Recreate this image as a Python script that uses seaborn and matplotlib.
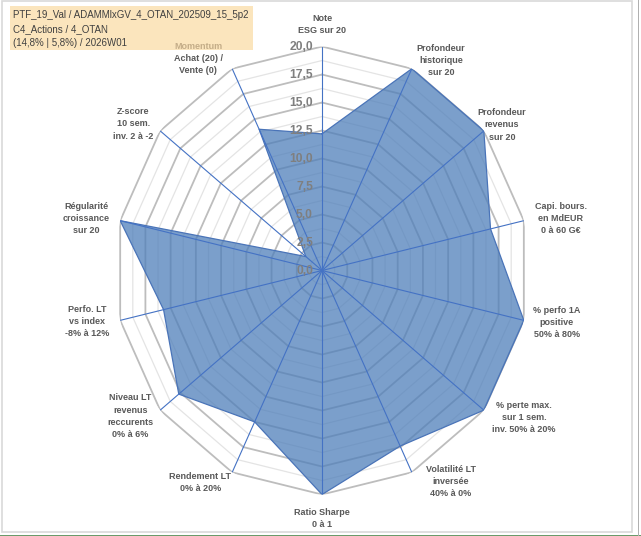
import numpy as np
import matplotlib
matplotlib.use("Agg")
import matplotlib.pyplot as plt
import seaborn as sns
from matplotlib.patches import Rectangle

sns.set_style("white")
plt.rcParams['font.family'] = ['Liberation Sans', 'DejaVu Sans']

# données du radar (échelle 0 à 20)
labels = [
    "Note\nESG sur 20",
    "Profondeur\nhistorique\nsur 20",
    "Profondeur\nrevenus\nsur 20",
    "Capi. bours.\nen MdEUR\n0 à 60 G€",
    "% perfo 1A\npositive\n50% à 80%",
    "% perte max.\nsur 1 sem.\ninv. 50% à 20%",
    "Volatilité LT\ninversée\n40% à 0%",
    "Ratio Sharpe\n0 à 1",
    "Rendement LT\n0% à 20%",
    "Niveau LT\nrevenus\nreccurents\n0% à 6%",
    "Perfo. LT\nvs index\n-8% à 12%",
    "Régularité\ncroissance\nsur 20",
    "Z-score\n10 sem.\ninv. 2 à -2",
    "Momentum\nAchat (20) /\nVente (0)",
]
values = [12.2, 20, 20, 16.7, 20, 20, 17.4, 20, 15.0, 17.7, 15.7, 20, 2.0, 14.0]
major_ticks = [0, 2.5, 5, 7.5, 10, 12.5, 15, 17.5, 20]
minor_ticks = [1.25, 3.75, 6.25, 8.75, 11.25, 13.75, 16.25, 18.75]
header_lines = [
    "PTF_19_Val / ADAMMlxGV_4_OTAN_202509_15_5p2",
    "C4_Actions / 4_OTAN",
    "(14,8% | 5,8%) / 2026W01",
]

# décalage des étiquettes (pixels, depuis le sommet de l'axe)
label_offsets = [(0, 22), (29, 8), (18, 6), (37, 2), (33, -2), (40, -7), (39, -9),
                 (0, -24), (-32, -10), (-30, -6), (-33, -1), (-34, 2), (-27, 7), (-34, 10)]

n = len(labels)
angles = np.arange(n) * 2 * np.pi / n
theta_closed = np.append(angles, angles[0])
vals_closed = np.append(values, values[0])

fig = plt.figure(figsize=(6.41, 5.36), dpi=100)

# cadre du graphique
fig.patches.append(Rectangle((2 / 641, 4 / 536), 630 / 641, 531 / 536, transform=fig.transFigure,
                             fill=False, edgecolor='#d9d9d9', linewidth=1.2, zorder=-2))
fig.patches.append(Rectangle((0, 0), 1, 1.5 / 536, transform=fig.transFigure,
                             facecolor='#6a9a6a', edgecolor='none', zorder=-2))
fig.patches.append(Rectangle((638 / 641, 0), 1.2 / 641, 1, transform=fig.transFigure,
                             facecolor='#b0b0b0', edgecolor='none', zorder=-2))
# cartouche en haut à gauche (derrière le graphique)
fig.patches.append(Rectangle((10 / 641, 1 - 50 / 536), 243 / 641, 44 / 536, transform=fig.transFigure,
                             facecolor='#fbe5bd', edgecolor='none', zorder=-1))

ax = fig.add_axes([0.1794, 0.0774, 0.6459, 0.8358], projection='polar')
ax.set_aspect('auto')
ax.set_theta_offset(np.pi / 2)
ax.set_theta_direction(-1)
ax.set_ylim(0, 20)
ax.grid(False)
ax.set_xticks([])
ax.set_yticks([])
ax.spines['polar'].set_visible(False)
ax.patch.set_alpha(0)

# grille polygonale
for lvl in minor_ticks:
    ax.plot(theta_closed, [lvl] * (n + 1), color='#e4e4e4', linewidth=0.9, zorder=1)
for lvl in major_ticks[1:]:
    ax.plot(theta_closed, [lvl] * (n + 1), color='#bdbdbd', linewidth=1.3, zorder=1)

# série remplie
ax.fill(theta_closed, vals_closed, color='#4f7fba', alpha=0.75, zorder=2, linewidth=0)
sns.lineplot(x=theta_closed, y=vals_closed, ax=ax, sort=False, estimator=None,
             color='#4a74b8', linewidth=0.9, zorder=3)

# rayons
for a in angles:
    ax.plot([a, a], [0, 20], color='#4472c4', linewidth=0.8, zorder=4)

# valeurs de l'axe
for lvl in major_ticks:
    ax.annotate(f"{lvl:.1f}".replace('.', ','), xy=(0, lvl), xytext=(-9, 0),
                textcoords='offset pixels', ha='right', va='center',
                fontsize=8.7, fontweight='bold', color='#7f7f7f', zorder=5)

# étiquettes des axes
for a, lab, (dx, dy) in zip(angles, labels, label_offsets):
    if lab.startswith("Momentum"):
        rest = lab.split("\n", 1)[1]
        ax.annotate("\n" + rest, xy=(a, 20), xytext=(dx, dy), textcoords='offset pixels',
                    ha='center', va='center', multialignment='center', fontsize=6.5,
                    fontweight='bold', color='#595959', linespacing=1.45, annotation_clip=False)
        ax.annotate("Momentum\n\n", xy=(a, 20), xytext=(dx, dy), textcoords='offset pixels',
                    ha='center', va='center', multialignment='center', fontsize=6.5,
                    fontweight='bold', color='#c4ad88', linespacing=1.45, annotation_clip=False,
                    zorder=6)
    else:
        ax.annotate(lab, xy=(a, 20), xytext=(dx, dy), textcoords='offset pixels',
                    ha='center', va='center', multialignment='center', fontsize=6.5,
                    fontweight='bold', color='#595959', linespacing=1.45, annotation_clip=False)

for i, line in enumerate(header_lines):
    fig.text(13 / 641, 1 - (15.5 + 14 * i) / 536, line, ha='left', va='center',
             fontsize=7.0, color='#404040')

plt.savefig('out.png', dpi=100, facecolor='white')
